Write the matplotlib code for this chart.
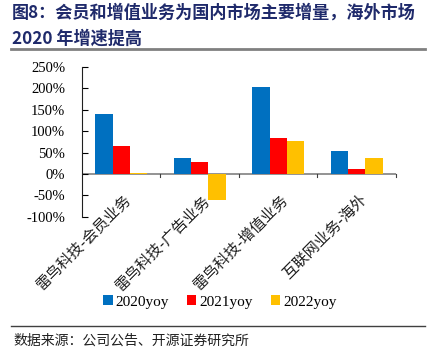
import matplotlib
matplotlib.use('Agg')
import matplotlib.pyplot as plt
from matplotlib.ticker import FuncFormatter
import numpy as np

categories = ['雷鸟科技-会员业务', '雷鸟科技-广告业务', '雷鸟科技-增值业务', '互联网业务-海外']
yoy_2020 = [140, 38, 203, 53]
yoy_2021 = [66, 27, 83, 11]
yoy_2022 = [3, -62, 78, 38]
series_names = ['2020yoy', '2021yoy', '2022yoy']
colors = ['#0070C0', '#FF0000', '#FFC000']

cjk = ['Noto Sans CJK SC', 'DejaVu Sans']
serif = ['Liberation Serif', 'DejaVu Serif']

fig = plt.figure(figsize=(4.36, 3.57), dpi=100)
ax = fig.add_axes([0.188, 0.393, 0.72, 0.419])

x = np.arange(len(categories))
w = 0.22
for i, vals in enumerate([yoy_2020, yoy_2021, yoy_2022]):
    ax.bar(x + (i - 1) * w, vals, w, color=colors[i], label=series_names[i], zorder=2)

ax.set_xlim(-0.5, len(categories) - 0.5)
ax.set_ylim(-100, 250)
ax.set_yticks(range(-100, 251, 50))
ax.yaxis.set_major_formatter(FuncFormatter(lambda v, p: '%d%%' % v))
for t in ax.get_yticklabels():
    t.set_fontfamily(serif)
    t.set_fontsize(10.5)
ax.tick_params(axis='y', direction='in', length=4, width=0.8, pad=12)

# zero line as the category axis
ax.axhline(0, color='#808080', lw=1.2, zorder=1)
ax.set_xticks([])
for b in np.arange(0.5, len(categories), 1):
    ax.plot([b, b], [0, -8], color='#404040', lw=0.8, clip_on=False)

for s in ['top', 'right', 'bottom']:
    ax.spines[s].set_visible(False)
ax.spines['left'].set_color('#202020')

for i, c in enumerate(categories):
    ax.text(i + 0.02, -40, c, rotation=45, ha='right', va='top', rotation_mode='anchor',
            fontsize=11, family=cjk, transform=ax.transData, color='#202020')

ax.legend(loc='center', bbox_to_anchor=(0.44, -0.57), ncol=3, frameon=False,
          prop={'family': serif, 'size': 11}, handlelength=0.6, handleheight=0.6,
          columnspacing=1.2, handletextpad=0.2)

fig.text(0.028, 0.965, '图8：会员和增值业务为国内市场主要增量，海外市场', fontsize=12.3,
         fontweight='bold', family=cjk, color='#1F2A6B', va='center')
fig.text(0.028, 0.893, '2020 年增速提高', fontsize=12.3, fontweight='bold', family=cjk,
         color='#1F2A6B', va='center')
fig.add_artist(plt.Line2D([0.025, 0.975], [0.862, 0.862], color='#808080', lw=2))
fig.add_artist(plt.Line2D([0.025, 0.975], [0.087, 0.087], color='#404040', lw=1))
fig.text(0.03, 0.045, '数据来源：公司公告、开源证券研究所', fontsize=10, family=cjk,
         color='#202020', va='center')

fig.savefig('out.png', dpi=100)
